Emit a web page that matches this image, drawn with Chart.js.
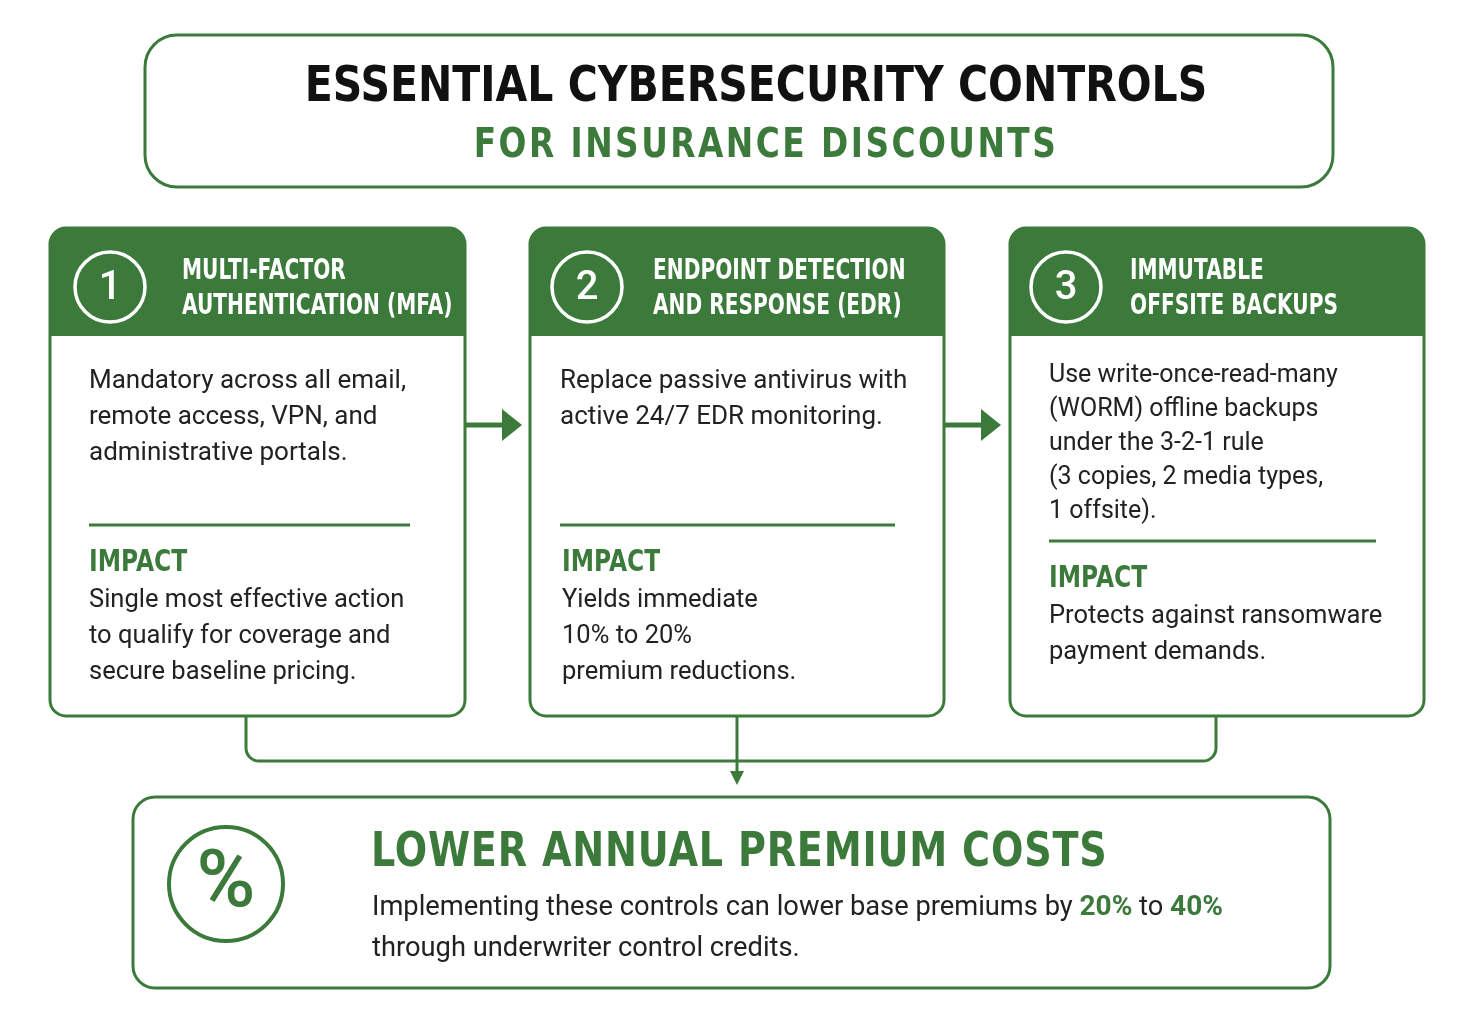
<!DOCTYPE html>
<html><head><meta charset="utf-8">
<script src="https://cdn.jsdelivr.net/npm/chart.js@4/dist/chart.umd.min.js"></script>
<style>html,body{margin:0;padding:0;background:#fff}#w{width:1475px;height:1023px}</style>
</head><body><div id="w"><canvas id="c"></canvas></div>
<script>
const titleLines = ["ESSENTIAL CYBERSECURITY CONTROLS", "FOR INSURANCE DISCOUNTS"];
const cardNumbers = ["1", "2", "3"];
const cardHeaders = [["MULTI-FACTOR","AUTHENTICATION (MFA)"],["ENDPOINT DETECTION","AND RESPONSE (EDR)"],["IMMUTABLE","OFFSITE BACKUPS"]];
const cardBodies = [["Mandatory across all email,","remote access, VPN, and","administrative portals."],["Replace passive antivirus with","active 24/7 EDR monitoring."],["Use write-once-read-many","(WORM) offline backups","under the 3-2-1 rule","(3 copies, 2 media types,","1 offsite)."]];
const impactLabel = "IMPACT";
const cardImpacts = [["Single most effective action","to qualify for coverage and","secure baseline pricing."],["Yields immediate","10% to 20%","premium reductions."],["Protects against ransomware","payment demands."]];
const resultTitle = "LOWER ANNUAL PREMIUM COSTS";
const resultLine1 = ["Implementing these controls can lower base premiums by ", "20%", " to ", "40%"];
const resultLine2 = "through underwriter control credits.";

const G = "#3b7a3b", INK = "#222";
const HEAD = "'DejaVu Sans',sans-serif";
const BODY = "Roboto,'Noto Sans',sans-serif";

const plugin = {
  id: 'info',
  afterDraw(chart) {
    const c = chart.ctx, sx = chart.scales.x, sy = chart.scales.y;
    const X = v => sx.getPixelForValue(v), Y = v => sy.getPixelForValue(v);
    function rr(x1,y1,x2,y2,r){c.beginPath();c.roundRect(X(x1),Y(y1),X(x2)-X(x1),Y(y2)-Y(y1),r);}
    function txt(s,x,y,font,col,align){c.font=font;c.fillStyle=col;c.textAlign=align||'left';c.textBaseline='middle';c.fillText(s,X(x),Y(y));}
    function sq(s,x,y,font,col,align,k){c.save();c.font=font;c.fillStyle=col;c.textAlign=align||'left';c.textBaseline='middle';
      c.translate(X(x),Y(y));c.scale(k,1);c.fillText(s,0,0);c.restore();}
    c.save();
    rr(145,35,1333,187,32); c.lineWidth=3; c.strokeStyle=G; c.stroke();
    sq(titleLines[0],756,88,"bold 50px "+HEAD,"#111",'center',0.82);
    c.letterSpacing="3px";
    sq(titleLines[1],766,147,"bold 40px "+HEAD,G,'center',0.82);
    c.letterSpacing="0px";
    const xs=[[50,465],[530,944],[1010,1424]];
    xs.forEach(([a,b],i)=>{
      rr(a,228,b,716,16); c.fillStyle="#fff"; c.fill(); c.lineWidth=3; c.strokeStyle=G; c.stroke();
      c.save(); rr(a,228,b,716,16); c.clip(); c.fillStyle=G; c.fillRect(X(a),Y(228),X(b)-X(a),Y(336)-Y(228)); c.restore();
      const cx=a+60+(i==1?-3:i==2?-4:0);
      c.beginPath(); c.arc(X(cx),Y(287),35,0,Math.PI*2); c.strokeStyle="#fff"; c.lineWidth=3.5; c.stroke();
      txt(cardNumbers[i],cx,289,"500 40px "+BODY,"#fff",'center');
      const hx=a+132-(i==1?9:i==2?12:0);
      cardHeaders[i].forEach((s,k)=>sq(s,hx,272+k*35,"bold 28px "+HEAD,"#fff",'left',0.72));
      const tx=a+39-(i==1?9:0);
      const sp=i==2?34:36, y0=i==2?376:381;
      const bf=i==2?"400 25px ":"400 26px ";
      cardBodies[i].forEach((s,k)=>txt(s,tx,y0+k*sp,bf+BODY,INK));
      const dy=i==2?541:525;
      c.beginPath(); c.moveTo(X(tx),Y(dy)); c.lineTo(X(tx+321+(i==2?6:0)+(i==1?14:0)),Y(dy)); c.strokeStyle=G; c.lineWidth=3; c.stroke();
      const tx2=a+39+(i==1?-7:0);
      sq(impactLabel,tx2,dy+38,"bold 30px "+HEAD,G,'left',0.78);
      cardImpacts[i].forEach((s,k)=>txt(s,tx2,dy+76+k*36,"400 25.5px "+BODY,INK));
    });
    function arrowR(x1,x2,y){c.beginPath();c.moveTo(X(x1),Y(y));c.lineTo(X(x2-12),Y(y));c.strokeStyle=G;c.lineWidth=5;c.stroke();
      c.beginPath();c.moveTo(X(x2),Y(y));c.lineTo(X(x2-20),Y(y-16));c.lineTo(X(x2-20),Y(y+16));c.closePath();c.fillStyle=G;c.fill();}
    arrowR(465,522,425); arrowR(945,1001,425);
    c.beginPath(); c.moveTo(X(246),Y(716)); c.lineTo(X(246),Y(748)); c.arcTo(X(246),Y(761),X(260),Y(761),13);
    c.lineTo(X(1202),Y(761)); c.arcTo(X(1216),Y(761),X(1216),Y(748),13); c.lineTo(X(1216),Y(716));
    c.strokeStyle=G; c.lineWidth=3; c.stroke();
    c.beginPath(); c.moveTo(X(737),Y(716)); c.lineTo(X(737),Y(772)); c.stroke();
    c.beginPath(); c.moveTo(X(737),Y(785)); c.lineTo(X(730),Y(771)); c.lineTo(X(744),Y(771)); c.closePath(); c.fillStyle=G; c.fill();
    rr(133,797,1330,988,22); c.lineWidth=3; c.strokeStyle=G; c.stroke();
    c.beginPath(); c.arc(X(226),Y(884),57,0,Math.PI*2); c.lineWidth=4; c.stroke();
    txt("%",226,886,"500 80px "+BODY,G,'center');
    c.letterSpacing="1px";
    sq(resultTitle,371,854,"bold 48px "+HEAD,G,'left',0.795);
    c.letterSpacing="0px";
    let x=372; const unit=X(1)-X(0);
    resultLine1.forEach((s,k)=>{const f=(k%2)?"bold 28px "+BODY:"400 27.3px "+BODY;
      txt(s,x,908,f,(k%2)?G:INK); x+=c.measureText(s).width/unit;});
    txt(resultLine2,372,949,"400 27.3px "+BODY,INK);
    c.restore();
  }
};

new Chart(document.getElementById('c'), {
  type: 'scatter',
  data: { datasets: [{ data: [] }] },
  options: {
    responsive: true, maintainAspectRatio: false, animation: false,
    layout: { padding: 0 },
    plugins: { legend: { display: false }, tooltip: { enabled: false } },
    scales: {
      x: { type: 'linear', min: 0, max: 1475, display: false },
      y: { type: 'linear', min: 0, max: 1023, reverse: true, display: false }
    }
  },
  plugins: [plugin]
});
</script></body></html>
